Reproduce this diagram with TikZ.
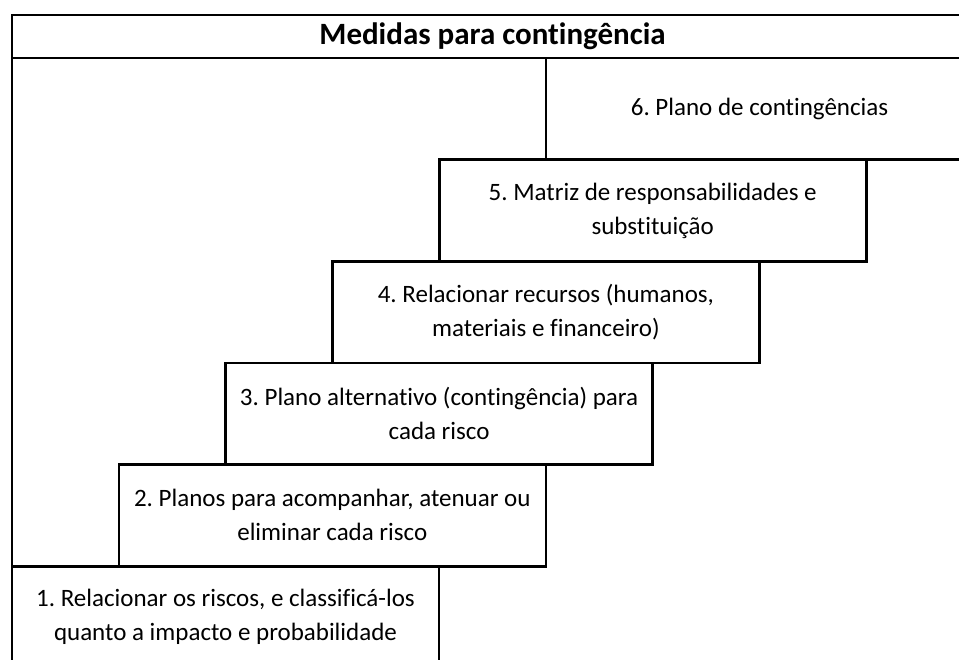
\documentclass[tikz,border=0pt]{standalone}
\usepackage{fontspec}
\setmainfont{Carlito}[Ligatures={NoCommon,NoRare,NoContextual}]
\frenchspacing
\begin{document}
\begin{tikzpicture}[x=1pt,y=-1pt,line width=2.6pt,line join=miter,
  stepbox/.style={draw=black,fill=white,minimum width=427pt,minimum height=101.6pt,inner sep=0pt,align=center,font=\fontsize{25}{34}\selectfont},
  framebox/.style={draw=black,minimum width=961pt,minimum height=653pt,inner sep=0pt},
  titlebox/.style={draw=black,minimum width=961pt,minimum height=43pt,inner sep=0pt,font=\fontsize{31}{37}\selectfont\bfseries}]
\useasboundingbox[fill=white] (0,0) rectangle (959,660);
\node[framebox] (frame) at (492.5,341.5) {};
\node[titlebox] (title) at (492.5,36.5) {Medidas para contingência};
\node[stepbox] (s1) at (225.5,617) {1. Relacionar os riscos, e classificá-los\\quanto a impacto e probabilidade};
\node[stepbox] (s2) at (332.3,515.4) {2. Planos para acompanhar, atenuar ou\\eliminar cada risco};
\node[stepbox] (s3) at (439.1,413.8) {3. Plano alternativo (contingência) para\\cada risco};
\node[stepbox] (s4) at (545.9,312.2) {4. Relacionar recursos (humanos,\\materiais e financeiro)};
\node[stepbox] (s5) at (652.7,210.6) {5. Matriz de responsabilidades e\\substituição};
\node[stepbox] (s6) at (759.5,109) {6. Plano de contingências};
\end{tikzpicture}
\end{document}
